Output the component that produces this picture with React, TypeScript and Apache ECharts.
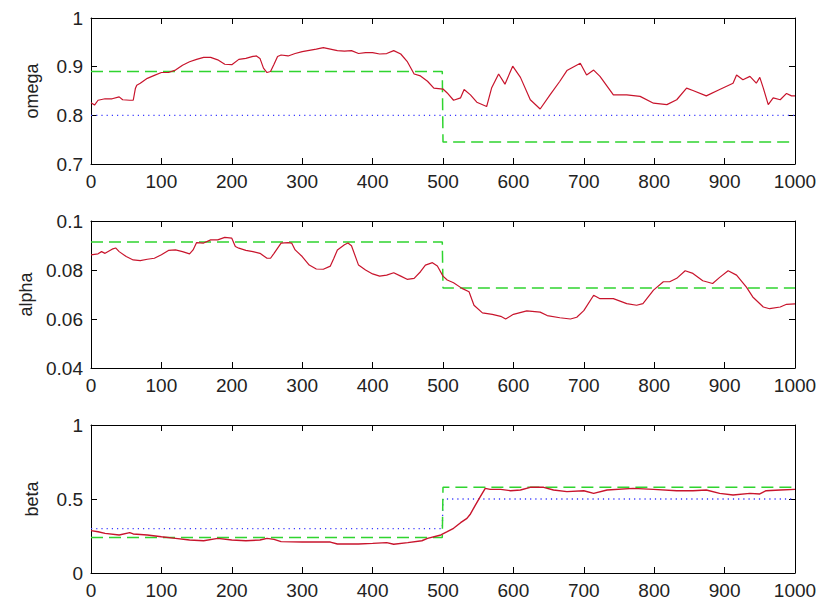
import React, { useEffect, useRef } from "react";
import * as echarts from "echarts";

const xTicks = [0, 100, 200, 300, 400, 500, 600, 700, 800, 900, 1000];

const omegaX = [0, 5, 10, 20, 30, 40, 45, 55, 60, 63, 65, 70, 80, 90, 100, 110, 120, 130, 140, 150, 160, 170, 180, 190, 200, 210, 220, 230, 235, 240, 245, 250, 255, 260, 265, 270, 280, 290, 300, 320, 330, 340, 350, 360, 370, 380, 390, 400, 410, 420, 430, 440, 449, 459, 468, 478, 487, 500, 506, 515, 525, 530, 539, 548, 562, 569, 579, 588, 599, 610, 624, 638, 652, 666, 676, 695, 704, 714, 723, 742, 761, 780, 799, 818, 832, 846, 855, 874, 893, 912, 917, 926, 936, 945, 950, 955, 962, 969, 979, 988, 995, 1000];
const omegaY = [0.826, 0.821, 0.831, 0.834, 0.834, 0.838, 0.832, 0.831, 0.831, 0.855, 0.862, 0.866, 0.876, 0.882, 0.888, 0.888, 0.893, 0.903, 0.91, 0.915, 0.919, 0.919, 0.914, 0.905, 0.904, 0.915, 0.917, 0.921, 0.922, 0.917, 0.897, 0.888, 0.89, 0.905, 0.921, 0.924, 0.922, 0.927, 0.931, 0.936, 0.939, 0.936, 0.933, 0.932, 0.933, 0.927, 0.929, 0.929, 0.926, 0.927, 0.933, 0.926, 0.911, 0.885, 0.881, 0.87, 0.856, 0.854, 0.846, 0.831, 0.836, 0.853, 0.842, 0.827, 0.818, 0.856, 0.885, 0.864, 0.901, 0.878, 0.832, 0.813, 0.842, 0.87, 0.892, 0.907, 0.883, 0.893, 0.88, 0.842, 0.842, 0.839, 0.825, 0.822, 0.832, 0.856, 0.851, 0.84, 0.853, 0.866, 0.883, 0.873, 0.88, 0.866, 0.878, 0.856, 0.822, 0.836, 0.832, 0.845, 0.84, 0.84];
const omegaPriorX = [0, 499, 500, 1000];
const omegaPriorY = [0.89, 0.89, 0.745, 0.745];
const omegaTrueX = [0, 1000];
const omegaTrueY = [0.8, 0.8];

const alphaX = [0, 10, 15, 20, 30, 35, 40, 50, 60, 70, 80, 90, 100, 110, 120, 130, 140, 145, 150, 160, 170, 180, 190, 200, 205, 210, 220, 230, 240, 250, 255, 260, 270, 280, 285, 290, 300, 310, 320, 330, 340, 345, 350, 360, 365, 370, 380, 390, 400, 410, 420, 430, 440, 449, 459, 468, 475, 485, 492, 500, 506, 515, 527, 537, 544, 556, 570, 582, 589, 600, 619, 638, 648, 666, 681, 690, 700, 714, 723, 742, 761, 775, 784, 799, 813, 822, 832, 844, 855, 869, 883, 893, 905, 917, 931, 940, 955, 964, 979, 988, 1000];
const alphaY = [0.0862, 0.0866, 0.0875, 0.0868, 0.0885, 0.089, 0.0875, 0.0855, 0.0841, 0.0838, 0.0844, 0.0848, 0.0862, 0.088, 0.0882, 0.0875, 0.0866, 0.0882, 0.0912, 0.091, 0.0923, 0.0923, 0.0933, 0.093, 0.0896, 0.0889, 0.088, 0.0875, 0.0868, 0.0848, 0.0848, 0.0868, 0.091, 0.0912, 0.091, 0.0882, 0.0855, 0.082, 0.0804, 0.0803, 0.0816, 0.0848, 0.0882, 0.0903, 0.091, 0.0899, 0.082, 0.08, 0.0784, 0.0775, 0.0779, 0.0789, 0.0775, 0.0762, 0.0766, 0.0793, 0.082, 0.083, 0.0816, 0.0775, 0.0759, 0.0748, 0.0725, 0.0711, 0.0656, 0.0625, 0.0619, 0.0611, 0.06, 0.0619, 0.0633, 0.0628, 0.0614, 0.0605, 0.06, 0.0607, 0.0634, 0.0697, 0.0683, 0.0683, 0.0663, 0.0656, 0.0663, 0.0718, 0.0752, 0.0752, 0.0766, 0.0797, 0.0786, 0.0756, 0.0745, 0.077, 0.0797, 0.0779, 0.073, 0.069, 0.0649, 0.0642, 0.0649, 0.066, 0.0662];
const alphaPriorX = [0, 499, 500, 1000];
const alphaPriorY = [0.0914, 0.0914, 0.0727, 0.0727];

const betaX = [0, 10, 20, 40, 55, 60, 80, 100, 120, 140, 160, 180, 200, 220, 240, 250, 260, 270, 300, 340, 350, 380, 400, 420, 430, 450, 470, 478, 497, 506, 515, 525, 534, 539, 546, 553, 560, 567, 582, 596, 610, 624, 643, 657, 676, 700, 714, 733, 770, 799, 832, 855, 874, 893, 912, 936, 950, 959, 979, 1000];
const betaY = [0.286, 0.279, 0.268, 0.257, 0.273, 0.264, 0.257, 0.245, 0.234, 0.223, 0.218, 0.234, 0.223, 0.218, 0.223, 0.234, 0.227, 0.212, 0.209, 0.209, 0.196, 0.196, 0.2, 0.205, 0.194, 0.205, 0.218, 0.234, 0.257, 0.279, 0.302, 0.34, 0.369, 0.399, 0.459, 0.516, 0.572, 0.565, 0.565, 0.556, 0.561, 0.579, 0.579, 0.561, 0.55, 0.556, 0.538, 0.561, 0.572, 0.565, 0.556, 0.556, 0.561, 0.538, 0.527, 0.538, 0.534, 0.556, 0.561, 0.565];
const betaPriorX = [0, 499, 500, 1000];
const betaPriorY = [0.24, 0.24, 0.58, 0.58];
const betaTrueX = [0, 499, 500, 1000];
const betaTrueY = [0.3, 0.3, 0.5, 0.5];

const panelNames = ["omega", "alpha", "beta"];
const yMins = [0.7, 0.04, 0];
const yMaxs = [1, 0.1, 1];
const yIntervals = [0.1, 0.02, 0.5];

const zip = (xs: number[], ys: number[]) => xs.map((x, i) => [x, ys[i]]);

const FONT = "'Liberation Sans', Arial, sans-serif";
const RED = "#c8142c";
const GREEN = "#2fd42f";
const BLUE = "#3a3aff";

export default function App() {
  const ref = useRef<HTMLDivElement>(null);
  useEffect(() => {
    if (!ref.current) return;
    const chart = echarts.init(ref.current, undefined, { renderer: "svg" });
    const grids = [
      { left: 91, right: 25, top: 18, height: 146 },
      { left: 91, right: 25, top: 221, height: 147 },
      { left: 91, right: 25, top: 425, height: 148 },
    ];
    const lineStyle = { color: "#000", width: 1 };
    const xAxes: any[] = [];
    const yAxes: any[] = [];
    for (let i = 0; i < 3; i++) {
      xAxes.push({
        type: "value", gridIndex: i, min: 0, max: 1000, interval: 100, position: "bottom",
        axisLine: { show: true, onZero: false, lineStyle },
        axisTick: { show: true, inside: true, length: 6, lineStyle },
        axisLabel: { show: true, color: "#222", fontSize: 19, fontFamily: FONT, margin: 8, formatter: (v: number) => (xTicks.includes(v) ? String(v) : "") },
        splitLine: { show: false },
      });
    }
    for (let i = 0; i < 3; i++) {
      xAxes.push({
        type: "value", gridIndex: i, min: 0, max: 1000, interval: 100, position: "top",
        axisLine: { show: true, onZero: false, lineStyle },
        axisTick: { show: true, inside: true, length: 6, lineStyle },
        axisLabel: { show: false },
        splitLine: { show: false },
      });
    }
    for (let i = 0; i < 3; i++) {
      yAxes.push({
        type: "value", gridIndex: i, min: yMins[i], max: yMaxs[i], interval: yIntervals[i], position: "left",
        name: panelNames[i], nameLocation: "middle", nameGap: 50, nameRotate: 90,
        nameTextStyle: { color: "#222", fontSize: 18, fontFamily: FONT },
        axisLine: { show: true, onZero: false, lineStyle },
        axisTick: { show: true, inside: true, length: 6, lineStyle },
        axisLabel: { show: true, color: "#222", fontSize: 19, fontFamily: FONT, margin: 8 },
        splitLine: { show: false },
      });
    }
    for (let i = 0; i < 3; i++) {
      yAxes.push({
        type: "value", gridIndex: i, min: yMins[i], max: yMaxs[i], interval: yIntervals[i], position: "right",
        axisLine: { show: true, onZero: false, lineStyle },
        axisTick: { show: true, inside: true, length: 6, lineStyle },
        axisLabel: { show: false },
        splitLine: { show: false },
      });
    }
    const mk = (data: number[][], idx: number, color: string, type: any, width: number) => ({
      type: "line", xAxisIndex: idx, yAxisIndex: idx, data, showSymbol: false, symbol: "none",
      lineStyle: { color, type, width }, silent: true, z: 2,
    });
    const dotted = [1.2, 4];
    const dashed = [12, 6];
    const series = [
      mk(zip(omegaTrueX, omegaTrueY), 0, BLUE, dotted, 1.3),
      mk(zip(omegaPriorX, omegaPriorY), 0, GREEN, dashed, 1.5),
      mk(zip(omegaX, omegaY), 0, RED, "solid", 1.2),
      mk(zip(alphaPriorX, alphaPriorY), 1, GREEN, dashed, 1.5),
      mk(zip(alphaX, alphaY), 1, RED, "solid", 1.2),
      mk(zip(betaTrueX, betaTrueY), 2, BLUE, dotted, 1.3),
      mk(zip(betaPriorX, betaPriorY), 2, GREEN, dashed, 1.5),
      mk(zip(betaX, betaY), 2, RED, "solid", 1.4),
    ];
    chart.setOption({
      animation: false,
      backgroundColor: "#fff",
      grid: grids,
      xAxis: xAxes,
      yAxis: yAxes,
      series,
    });
    return () => chart.dispose();
  }, []);
  return <div ref={ref} style={{ position: "absolute", left: 0, top: 0, width: 820, height: 606 }} />;
}
